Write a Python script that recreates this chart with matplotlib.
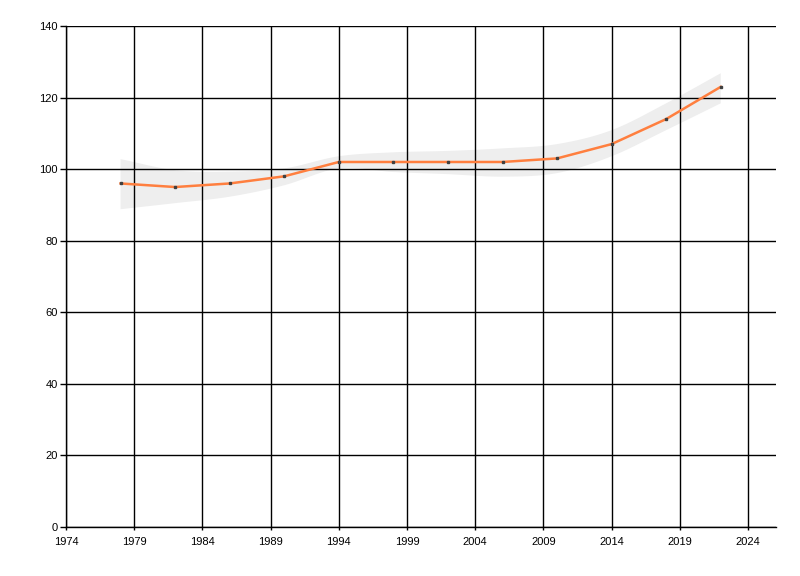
import numpy as np
import matplotlib
matplotlib.use("Agg")
import matplotlib.pyplot as plt

# values
years = [1978, 1982, 1986, 1990, 1994, 1998, 2002, 2006, 2010, 2014, 2018, 2022]
values = [96, 95, 96, 98, 102, 102, 102, 102, 103, 107, 114, 123]
upper = [102.8, 99.7, 99.3, 100.2, 103.6, 104.7, 105.1, 105.8, 107.0, 110.9, 118.4, 126.8]
lower = [88.8, 90.5, 92.3, 95.5, 100.2, 99.2, 98.6, 97.9, 98.9, 103.6, 110.9, 118.4]

x_ticks = list(range(1974, 2025, 5))
y_ticks = list(range(0, 141, 20))


def smooth(xs, ys, n=20):
    """Catmull-Rom curve through the points, used only to draw the band edge."""
    xs = np.asarray(xs, float)
    ys = np.asarray(ys, float)
    px = np.concatenate([[2 * xs[0] - xs[1]], xs, [2 * xs[-1] - xs[-2]]])
    py = np.concatenate([[2 * ys[0] - ys[1]], ys, [2 * ys[-1] - ys[-2]]])
    out_x, out_y = [], []
    t = np.linspace(0, 1, n, endpoint=False)
    for i in range(1, len(px) - 2):
        for p, out in ((px, out_x), (py, out_y)):
            p0, p1, p2, p3 = p[i - 1], p[i], p[i + 1], p[i + 2]
            out.extend(0.5 * (2 * p1 + (-p0 + p2) * t
                              + (2 * p0 - 5 * p1 + 4 * p2 - p3) * t ** 2
                              + (-p0 + 3 * p1 - 3 * p2 + p3) * t ** 3))
    out_x.append(xs[-1])
    out_y.append(ys[-1])
    return np.array(out_x), np.array(out_y)


plt.rcParams['font.family'] = ['Liberation Sans', 'DejaVu Sans']

fig = plt.figure(figsize=(8, 5.76), dpi=100)
ax = fig.add_axes([66 / 800, 49 / 576, 710 / 800, 501 / 576])

ux, uy = smooth(years, upper)
lx, ly = smooth(years, lower)
ax.fill(np.concatenate([ux, lx[::-1]]), np.concatenate([uy, ly[::-1]]),
        color='#eeeeee', lw=0, zorder=1)

ax.plot(years, values, color='#ff7f3f', lw=1.8, zorder=3)
ax.plot(years, values, ls='none', marker='s', ms=1.8, color='#404040', zorder=4)

ax.set_xlim(1974, 2026.05)
ax.set_ylim(0, 140)
ax.set_xticks(x_ticks)
ax.set_yticks(y_ticks)
ax.grid(True, color='black', lw=1, zorder=2)
ax.set_axisbelow(False)
for s in ('top', 'right'):
    ax.spines[s].set_visible(False)
for s in ('left', 'bottom'):
    ax.spines[s].set_linewidth(1)
ax.tick_params(axis='x', length=2, width=1, pad=5, labelsize=8)
ax.tick_params(axis='y', length=4, width=1, pad=2, labelsize=8)

fig.savefig('out.png', dpi=100)
